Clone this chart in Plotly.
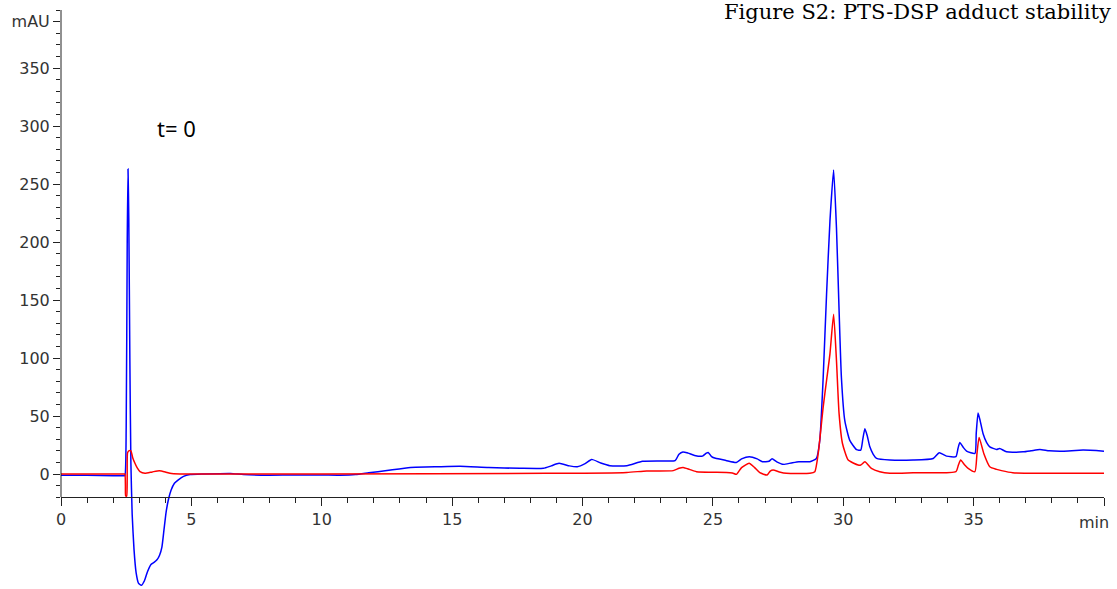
import plotly.graph_objects as go

# ---- data ----
blue_t = [0, 1.0, 2.0, 2.4, 2.45, 2.50, 2.54, 2.57, 2.60, 2.64, 2.68, 2.73, 2.80, 2.88, 2.97, 3.08, 3.2, 3.32,
          3.45, 3.58, 3.68, 3.78, 3.87, 3.95, 4.03, 4.12, 4.22, 4.35, 4.5, 4.7, 4.95, 5.5, 6.5, 7.0, 8.0,
          9.0, 10.0, 10.7, 11.3, 11.8, 12.5, 13.4, 14.5, 15.3, 16.4, 17.6, 18.5, 18.8, 19.1, 19.5, 19.8,
          20.1, 20.35, 20.7, 21.05, 21.7, 22.3, 23.0, 23.55, 23.7, 23.85, 24.05, 24.3, 24.6, 24.75, 24.82,
          24.95, 25.1, 25.5, 25.9, 26.1, 26.4, 26.7, 26.9, 27.15, 27.27, 27.45, 27.7, 28.0, 28.3, 28.72,
          28.97, 29.1, 29.23, 29.36, 29.49, 29.63, 29.74, 29.84, 29.93, 30.06, 30.25, 30.51, 30.67, 30.75,
          30.83, 30.92, 31.02, 31.15, 31.28, 31.79, 32.68, 33.45, 33.68, 33.96, 34.32, 34.4, 34.47, 34.6,
          34.73, 35.05, 35.1, 35.17, 35.25, 35.36, 35.5, 35.62, 35.88, 36.0, 36.26, 36.9, 37.2, 37.54,
          37.9, 38.42, 39.2, 40.0]
blue_v = [-1, -1, -1.5, -1.5, -1.5, 40, 200, 263, 220, 100, 10, -35, -65, -85, -94, -96, -92, -84,
          -78, -76, -74, -70, -63, -48, -33, -22, -14, -8, -5, -2, -0.5, 0, 0.5, -0.5, -1,
          -0.8, -0.8, -1, -0.5, 1, 3, 5.7, 6.3, 6.6, 5.5, 4.9, 4.9, 7, 9.2, 7, 6.3,
          9, 12.6, 9.5, 7.2, 7.2, 11, 11.3, 11.5, 17, 19, 18, 16, 15.4, 18, 18.6,
          15, 13.5, 11.7, 10, 13, 14.9, 13, 10.6, 11, 13.1, 10.5, 8.3, 9.5, 10.6, 10.6,
          13.4, 29, 83, 155, 218, 262, 212, 141, 83, 46, 29, 21, 20.6, 30,
          39, 33, 23.4, 17, 13.4, 12, 12, 13.4, 18.3, 15.4, 14.9, 22, 27.2, 23,
          19.7, 17.7, 35, 52.6, 46, 34.9, 27, 23.4, 21.2, 22, 19.1, 19.1, 20, 21.2,
          20, 19.7, 20.6, 19.7]

red_t = [0, 1.0, 2.0, 2.4, 2.45, 2.47, 2.48, 2.52, 2.55, 2.6, 2.68, 2.75, 2.84, 2.93, 3.03, 3.22, 3.5, 3.77,
         4.0, 4.18, 4.56, 5.5, 10, 18.6, 19.13, 21.7, 22.46, 23.48, 23.7, 23.86, 24.1, 24.37, 25.52, 25.75,
         25.9, 26.1, 26.39, 26.6, 26.8, 27.08, 27.2, 27.31, 27.55, 27.82, 28.72, 28.91, 29.04, 29.23, 29.36,
         29.49, 29.63, 29.74, 29.84, 29.97, 30.19, 30.57, 30.67, 30.83, 31.08, 31.4, 31.79, 32.68, 34.32,
         34.42, 34.5, 34.65, 34.79, 35.05, 35.13, 35.21, 35.39, 35.62, 35.88, 36.07, 36.5, 40]
red_v = [0, 0, 0, 0, 0, -10, -19, -19, 18, 20, 20, 14, 9, 5, 2, 0.6, 1.8, 2.9,
         1.8, 0.6, 0, 0, 0, 0.6, 0.6, 1.4, 2.6, 2.9, 5, 5.7, 4, 2, 1.4, 0.8,
         -0.3, 5.5, 9.2, 5.5, 1.1, -0.9, 2.5, 3.4, 1.8, 0.6, 0.6, 2, 17.7, 57.7, 80.6,
         103.5, 137.8, 97.8, 52, 26.3, 12, 7.7, 7.7, 10.6, 4.9, 2, 0.6, 1.1, 2,
         8, 12, 8, 4.9, 2, 18, 31.5, 17.7, 6.3, 4, 2.9, 1.1, 0.6]

x_tick_vals = [0, 5, 10, 15, 20, 25, 30, 35, 40]
x_tick_text = ["0", "5", "10", "15", "20", "25", "30", "35", ""]
x_unit_text = "min"
y_tick_vals = [0, 50, 100, 150, 200, 250, 300, 350, 390]
y_tick_text = ["0", "50", "100", "150", "200", "250", "300", "350", "mAU"]

title_text = "Figure S2: PTS-DSP adduct stability"
label_text = "t= 0"

# ---- layout geometry (body margin removed by post_script) ----
W, H = 1117, 589
ml, mr, mt, mb = 61, 13, 10, 0
y_top = 400
px_per_unit = 1.16
plot_h = H - mt - mb
plot_w = W - ml - mr
y_bot = y_top - plot_h / px_per_unit
axis_floor = -20
xpos = (axis_floor - y_bot) / (y_top - y_bot)

y_minor = sorted({v for v in range(-20, 401, 10) if v % 50 != 0 and v != 390} | {-20, 400})

tick_font = dict(family="DejaVu Sans", size=16, color="#333333")

fig = go.Figure()
fig.add_trace(go.Scatter(x=blue_t, y=blue_v, mode="lines",
                         line=dict(color="#0000ff", width=1.5, shape="spline", smoothing=0.5),
                         showlegend=False))
fig.add_trace(go.Scatter(x=red_t, y=red_v, mode="lines",
                         line=dict(color="#ff0000", width=1.5, shape="spline", smoothing=0.5),
                         showlegend=False))

fig.update_layout(
    width=W, height=H,
    margin=dict(l=ml, r=mr, t=mt, b=mb, autoexpand=False),
    paper_bgcolor="white", plot_bgcolor="white",
    xaxis=dict(range=[0, 40], anchor="free", position=xpos,
               showgrid=False, zeroline=False, showline=True, linecolor="#222222", linewidth=1,
               tickmode="array", tickvals=x_tick_vals, ticktext=x_tick_text,
               ticks="outside", ticklen=8, tickcolor="#222222", tickfont=tick_font,
               minor=dict(dtick=1, ticks="outside", ticklen=5, tickcolor="#222222", showgrid=False)),
    yaxis=dict(range=[y_bot, y_top], showgrid=False, zeroline=False, showline=False,
               tickmode="array", tickvals=y_tick_vals, ticktext=y_tick_text,
               ticks="outside", ticklen=7, tickcolor="#222222", tickfont=tick_font,
               minor=dict(tickmode="array", tickvals=y_minor, ticks="outside", ticklen=4,
                          tickcolor="#222222", showgrid=False)),
    shapes=[dict(type="line", xref="paper", yref="paper", x0=0, x1=0, y0=xpos, y1=1,
                 line=dict(color="#222222", width=1))],
    annotations=[
        dict(text=title_text, xref="paper", yref="paper",
             x=(1113 - ml) / plot_w, y=(H - 12 - mb) / plot_h,
             xanchor="right", yanchor="middle", showarrow=False,
             font=dict(family="DejaVu Serif", size=21, color="black")),
        dict(text=label_text, x=3.6, y=298, xref="x", yref="y",
             xanchor="left", yanchor="middle", showarrow=False,
             font=dict(family="Noto Sans", size=22, color="black")),
        dict(text=x_unit_text, x=40, y=(H - 522 - mb) / plot_h, xref="x", yref="paper",
             xanchor="right", yanchor="middle", xshift=7, showarrow=False,
             font=tick_font),
    ],
)

fig.write_html("out.html", config={"displayModeBar": False},
               post_script="document.body.style.margin='0';")
